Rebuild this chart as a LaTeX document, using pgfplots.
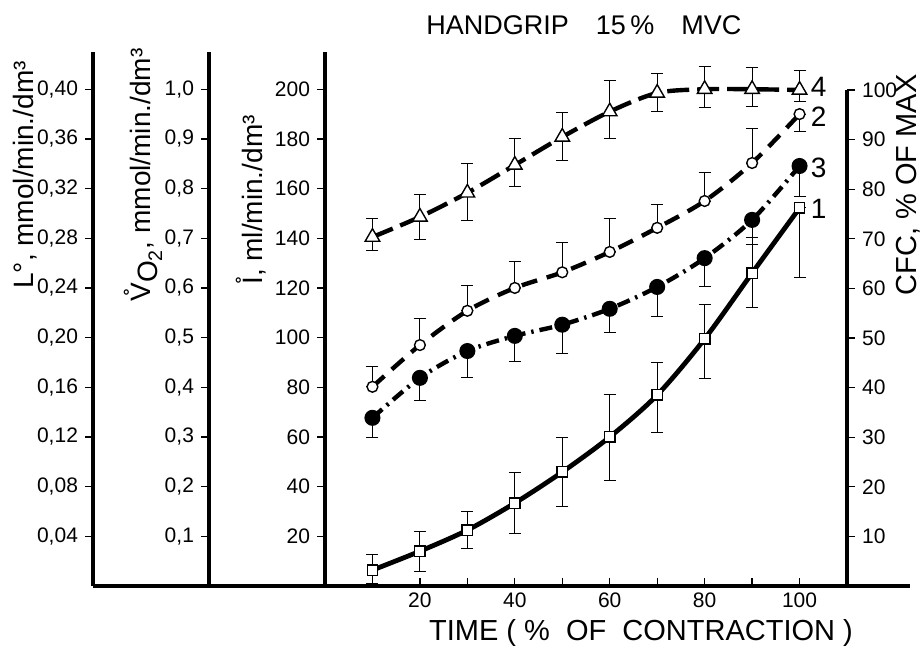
\documentclass[border=0pt]{standalone}
\usepackage{pgfplots}
\pgfplotsset{compat=1.18}
\usepackage{pgfplotstable}
\usepackage{fontspec}
\setmainfont{Liberation Sans}

% x = % of contraction, y in ml/min/dm3 (I-dot scale), ep/em = error up/down
\pgfplotstableread{
x   y     ep    em
10  140.5 7.5   5.5
20  148.6 9.0   9.0
30  158.3 12.0  11.0
40  169.5 10.5  8.5
50  180.8 9.7   9.6
60  191.0 12.4  11.0
70  198.5 8.0   7.5
80  200.0 9.0   7.5
90  200.0 8.6   7.0
100 199.7 7.7   4.7
}\sfour
\pgfplotstableread{
x   y     ep    em
10  80.2  8.0   0
20  97.0  10.5  0
30  110.8 10.0  0
40  120.0 10.5  0
50  126.3 12.0  0
60  134.5 13.3  0
70  144.2 9.2   0
80  155.0 11.3  0
90  170.3 13.7  0
100 190.0 0     7.2
}\stwo
\pgfplotstableread{
x   y     ep    em
10  67.7  0     8.1
20  83.8  0     9.3
30  94.6  0     10.8
40  100.7 0     10.5
50  105.2 0     11.4
60  111.6 0     9.7
70  120.4 0     11.7
80  132.0 0     11.6
90  147.4 0     10.1
100 169.1 0     12.4
}\sthree
\pgfplotstableread{
x   y     ep    em
10  6.4   6.1   5.2
20  14.0  8.0   8.0
30  22.5  7.3   7.5
40  33.4  12.1  12.1
50  45.9  13.7  13.7
60  60.0  17.3  17.7
70  76.9  12.9  14.9
80  99.5  13.7  16.1
90  126.0 14.5  14.0
100 152.2 0     27.8
}\sone

\pgfplotsset{
  base/.style={scale only axis, anchor=south west, height=267pt,
    axis line style={line width=1.6pt}, tick style={black, line width=0.6pt},
    major tick length=4pt, minor tick length=4pt, tick align=outside, clip=false,
    ticklabel style={font=\fontsize{10.5}{12}\selectfont}},
  spine/.style={base, width=10pt, xmin=0, xmax=1, axis x line=none, axis y line*=left},
  eb/.style={error bars/.cd, y dir=both, y explicit,
    error bar style={solid, line width=0.5pt},
    error mark options={solid, rotate=90, mark size=3pt, line width=0.5pt}},
}

\begin{document}
\begin{tikzpicture}
\useasboundingbox (0,0) rectangle (460.5pt,326pt);

% L axis, with the long bottom line
\begin{axis}[base, at={(46.5pt,33pt)}, width=408.5pt, xmin=0, xmax=1,
  ymin=0, ymax=0.43, axis x line*=bottom, axis y line*=left, xtick=\empty,
  ytick={0.04,0.08,0.12,0.16,0.2,0.24,0.28,0.32,0.36,0.4},
  yticklabels={{0,04},{0,08},{0,12},{0,16},{0,20},{0,24},{0,28},{0,32},{0,36},{0,40}}]
\end{axis}

% VO2 axis
\begin{axis}[spine, at={(104.5pt,33pt)}, ymin=0, ymax=1.075,
  ytick={0.1,0.2,0.3,0.4,0.5,0.6,0.7,0.8,0.9,1.0},
  yticklabels={{0,1},{0,2},{0,3},{0,4},{0,5},{0,6},{0,7},{0,8},{0,9},{1,0}}]
\end{axis}

% I axis
\begin{axis}[spine, at={(162.5pt,33pt)}, ymin=0, ymax=215,
  ytick={20,40,...,200},
  yticklabels={20,40,60,80,100,120,140,160,180,200}]
\end{axis}

% CFC axis on the right
\begin{axis}[base, at={(162.5pt,33pt)}, width=261pt, height=248pt,
  xmin=0, xmax=110, ymin=0, ymax=100, axis x line=none, axis y line*=right,
  ytick={10,20,...,100}, yticklabels={10,20,30,40,50,60,70,80,90,100}]
\end{axis}

% data
\begin{axis}[base, at={(162.5pt,33pt)}, width=261pt,
  xmin=0, xmax=110, ymin=0, ymax=215,
  axis x line*=bottom, axis y line=none, tick align=inside,
  xtick={20,40,...,100}, xticklabels={20,40,60,80,100},
  minor xtick={30,50,70,90}]

\addplot[black, line width=2.2pt, smooth, dash pattern=on 11pt off 4pt,
  mark=triangle*, mark size=4.2pt, mark options={solid, fill=white, line width=0.7pt},
  eb] table[x=x, y=y, y error plus=ep, y error minus=em] {\sfour};

\addplot[black, line width=2.2pt, smooth, dash pattern=on 8pt off 5pt,
  mark=*, mark size=2.7pt, mark options={solid, fill=white, line width=0.7pt},
  eb] table[x=x, y=y, y error plus=ep, y error minus=em] {\stwo};

\addplot[black, line width=2.2pt, smooth, dash pattern=on 6.5pt off 3pt on 1.2pt off 3pt,
  mark=*, mark size=2.9pt, mark options={solid, fill=black},
  eb] table[x=x, y=y, y error plus=ep, y error minus=em] {\sthree};

\addplot[black, line width=2.4pt, smooth,
  mark=square*, mark size=2.6pt, mark options={solid, fill=white, line width=0.7pt},
  eb] table[x=x, y=y, y error plus=ep, y error minus=em] {\sone};

\node[font=\fontsize{14}{14}\selectfont] at (axis cs:104,201) {4};
\node[font=\fontsize{14}{14}\selectfont] at (axis cs:104,189) {2};
\node[font=\fontsize{14}{14}\selectfont] at (axis cs:104,168.3) {3};
\node[font=\fontsize{14}{14}\selectfont] at (axis cs:104,152) {1};
\end{axis}

% titles and axis labels
\node[font=\fontsize{13.5}{14}\selectfont] at (292pt,313.5pt) {HANDGRIP\quad 15\,\%\quad MVC};
\node[font=\fontsize{14.5}{15}\selectfont] at (320.5pt,9.5pt) {TIME ( \% \ OF \ CONTRACTION )};
\node[rotate=90, font=\fontsize{14}{15}\selectfont] at (12.5pt,238.5pt)
  {L\textdegree, mmol/min./dm³};
\node[rotate=90, font=\fontsize{14}{15}\selectfont] at (71.5pt,238.5pt)
  {\r{V}\raisebox{-0.5ex}{O\textsubscript{2}}, mmol/min./dm³};
\node[rotate=90, font=\fontsize{14}{15}\selectfont] at (125.5pt,226pt)
  {\r{I}, ml/min./dm³};
\node[rotate=90, anchor=north, inner sep=0pt, font=\fontsize{14.5}{15}\selectfont]
  at (448pt,233.5pt) {CFC, \% OF MAX};
\end{tikzpicture}
\end{document}
